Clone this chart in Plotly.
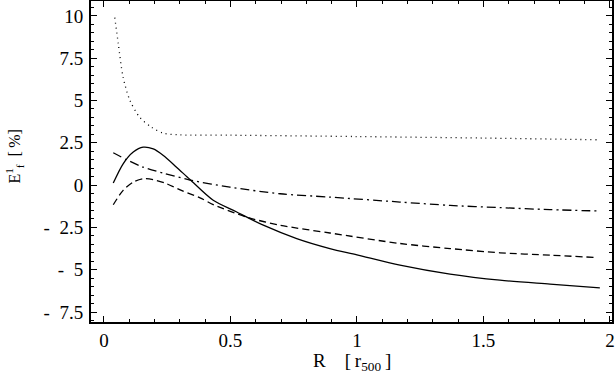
import plotly.graph_objects as go

# values
solid_x = [0.037, 0.076, 0.116, 0.155, 0.195, 0.235, 0.287, 0.34, 0.432, 0.525,
           0.63, 0.762, 0.893, 1.0, 1.17, 1.368, 1.565, 1.763, 1.96]
solid_y = [0.12, 1.26, 1.95, 2.24, 2.14, 1.75, 1.06, 0.33, -0.90, -1.59,
           -2.37, -3.16, -3.75, -4.12, -4.73, -5.26, -5.62, -5.85, -6.07]

dash_x = [0.037, 0.076, 0.116, 0.155, 0.195, 0.248, 0.313, 0.38, 0.432, 0.564,
          0.696, 0.893, 1.17, 1.368, 1.565, 1.763, 1.947]
dash_y = [-1.16, -0.31, 0.18, 0.38, 0.32, 0.08, -0.36, -0.75, -1.15, -1.89,
          -2.37, -2.83, -3.45, -3.75, -4.0, -4.14, -4.28]

dashdot_x = [0.037, 0.09, 0.155, 0.235, 0.34, 0.498, 0.696, 0.893, 1.17, 1.368,
             1.565, 1.763, 1.96]
dashdot_y = [1.91, 1.5, 1.06, 0.71, 0.30, -0.12, -0.51, -0.71, -1.0, -1.2,
             -1.33, -1.45, -1.53]

dot_x = [0.043, 0.057, 0.076, 0.103, 0.142, 0.188, 0.235, 0.30, 0.5, 1.0, 1.5, 1.947]
dot_y = [9.9, 8.33, 6.37, 5.0, 4.0, 3.42, 3.07, 2.97, 2.95, 2.87, 2.78, 2.68]

x_ticks = [0, 0.5, 1, 1.5, 2]
x_labels = ["0", "0.5", "1", "1.5", "2"]
y_ticks = [10, 7.5, 5, 2.5, 0, -2.5, -5, -7.5]
y_labels = ["10", "7.5", "5", "2.5", "0", "-\u20022.5", "-\u20025", "-\u20027.5"]

FONT = "Liberation Serif"

fig = go.Figure()


def add_curve(x, y, dash):
    fig.add_trace(go.Scatter(
        x=x, y=y, mode="lines",
        line=dict(color="black", width=1.3, dash=dash, shape="spline", smoothing=0.8),
        showlegend=False, hoverinfo="skip",
    ))


add_curve(dot_x, dot_y, "1px,4px")
add_curve(dashdot_x, dashdot_y, "9px,4px,2px,4px")
add_curve(dash_x, dash_y, "7px,4px")
add_curve(solid_x, solid_y, "solid")

axis_common = dict(
    showline=True, linecolor="black", linewidth=2, mirror="ticks",
    ticks="inside", ticklen=6, tickcolor="black", tickwidth=1,
    showgrid=False, zeroline=False, automargin=False,
    ticklabeloverflow="allow",
    tickfont=dict(family=FONT, size=19, color="black"),
)

fig.update_xaxes(
    range=[-0.051, 2.008], tickvals=x_ticks, ticktext=x_labels,
    minor=dict(dtick=0.1, tick0=0, ticks="inside", ticklen=3, tickcolor="black", showgrid=False),
    **axis_common,
)
fig.update_yaxes(
    range=[-8.09, 10.88], tickvals=y_ticks, ticktext=y_labels,
    minor=dict(dtick=0.5, tick0=0, ticks="inside", ticklen=3, tickcolor="black", showgrid=False),
    ticklabelstandoff=2,
    **axis_common,
)

# axis titles as annotations so they can sit where the reference has them
fig.add_annotation(
    text="R\u2003[\u2009r<sub>500</sub>\u2009]", xref="paper", yref="paper",
    x=0.5, y=0, xanchor="center", yanchor="middle", yshift=-40,
    showarrow=False, font=dict(family=FONT, size=19, color="black"),
)
fig.add_annotation(
    text="E<sup>1</sup><sub>f</sub>\u2002[\u2009%]", xref="paper", yref="paper",
    x=0, y=0.5, xanchor="center", yanchor="middle", xshift=-77, yshift=5,
    textangle=-90, showarrow=False, font=dict(family=FONT, size=16, color="black"),
)

fig.update_layout(
    width=615, height=376,
    margin=dict(l=91, r=3, t=1, b=54),
    plot_bgcolor="white", paper_bgcolor="white",
)

fig.write_html("out.html", config={"displayModeBar": False},
               post_script="document.body.style.margin='0';")
